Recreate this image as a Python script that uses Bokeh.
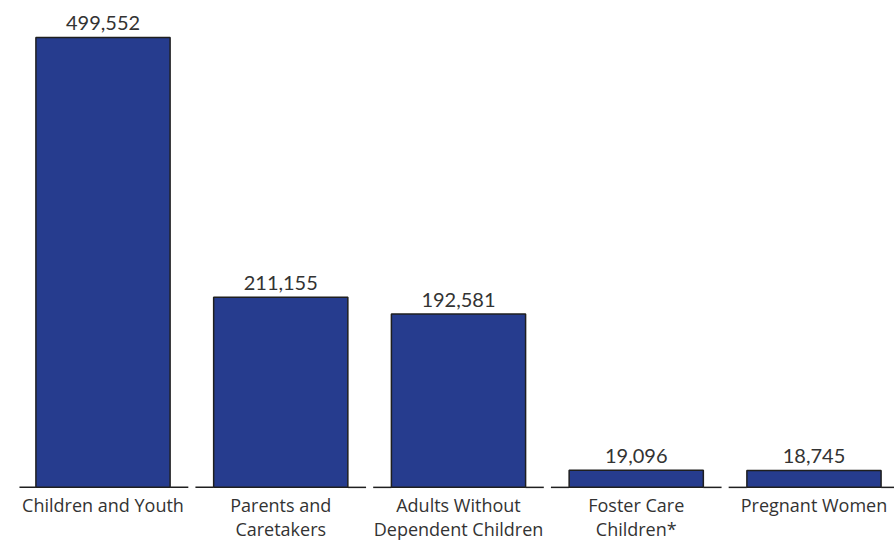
from bokeh.plotting import figure
from bokeh.models import ColumnDataSource, Range1d
from bokeh.core.properties import value
from bokeh.embed import file_html
from bokeh.resources import INLINE

categories = ["Children and Youth", "Parents and\nCaretakers", "Adults Without\nDependent Children",
              "Foster Care\nChildren*", "Pregnant Women"]
enrollment = [499552, 211155, 192581, 19096, 18745]
value_labels = ["499,552", "211,155", "192,581", "19,096", "18,745"]

xs = list(range(len(categories)))
src = ColumnDataSource(dict(x=xs, top=enrollment, cat=categories, lab=value_labels,
                            zero=[0] * len(xs)))

p = figure(width=894, height=540, output_backend="svg", toolbar_location=None,
           x_range=Range1d(-0.5767, 4.453), y_range=Range1d(-59000, 540630),
           min_border=0, min_border_left=0, min_border_right=0, min_border_top=0, min_border_bottom=0)
p.axis.visible = False
p.grid.visible = False
p.outline_line_color = None
p.background_fill_color = "white"

bw = 0.755
# baseline segments with small gaps between bands
x0s, x1s = [], []
x0s.append(-0.5 + 0.03); x1s.append(0 - bw / 2)
for i in range(len(xs) - 1):
    mid = i + 0.5
    x0s.append(i + bw / 2); x1s.append(mid - 0.02)
    x0s.append(mid + 0.02); x1s.append(i + 1 - bw / 2)
x0s.append(len(xs) - 1 + bw / 2); x1s.append(len(xs) - 0.5)
p.segment(x0=x0s, x1=x1s, y0=[0] * len(x0s), y1=[0] * len(x0s), line_color="#1f1f1f", line_width=1.5)

p.vbar(x="x", top="top", bottom="zero", width=bw, source=src, fill_color="#263c8e",
       line_color="#1f1f1f", line_width=1.5)

p.text(x="x", y="top", text="lab", source=src, text_align="center", text_baseline="bottom",
       y_offset=-7, text_font=value("Lato"), text_font_size="20px", text_color="#333333")

p.text(x="x", y="zero", text="cat", source=src, text_align="center", text_baseline="top",
       y_offset=6, text_font=value("Open Sans"), text_font_size="18px", text_color="#333333",
       text_line_height=1.0)

open("out.html", "w").write(file_html(p, INLINE))
